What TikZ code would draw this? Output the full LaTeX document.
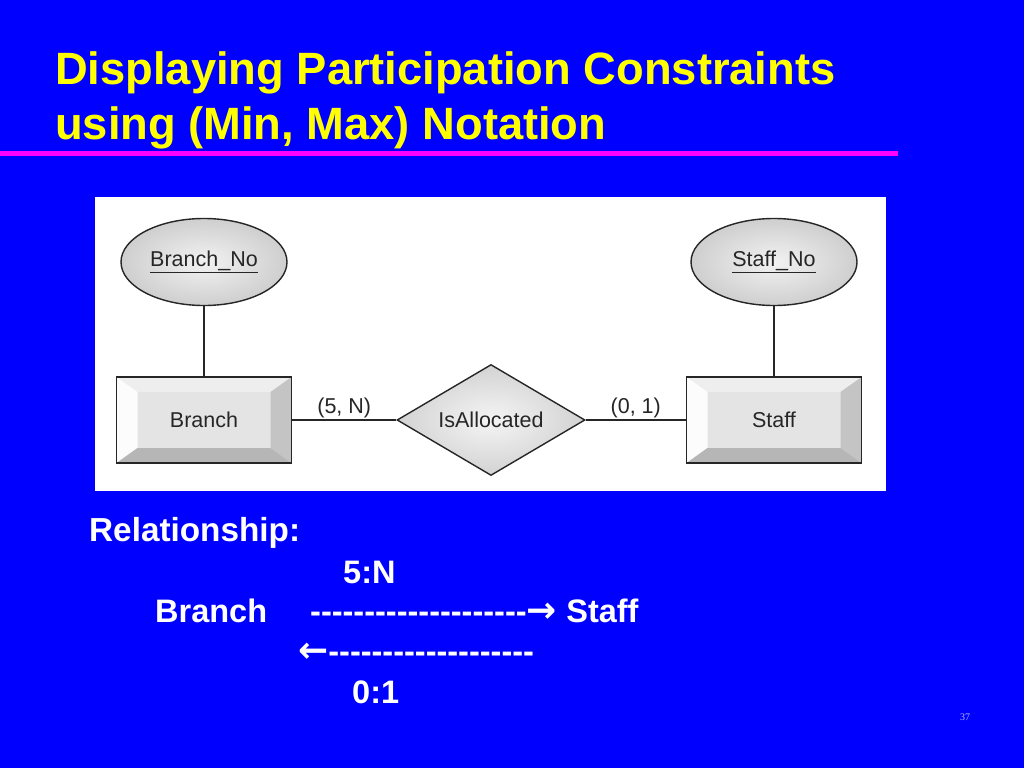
\documentclass[tikz,border=0pt]{standalone}
\usepackage{fontspec}
\setmainfont{Liberation Sans}
\newfontfamily\serifnum{Liberation Serif}
\newfontfamily\arrowfont{DejaVu Sans}
\usetikzlibrary{shapes.geometric,calc}
\definecolor{bg}{RGB}{0,0,255}
\definecolor{ttl}{RGB}{255,255,0}
\definecolor{mag}{RGB}{255,0,255}
\definecolor{pgnum}{RGB}{190,190,255}
\definecolor{bevtop}{RGB}{238,238,238}
\definecolor{bevleft}{RGB}{252,252,252}
\definecolor{bevright}{RGB}{196,196,196}
\definecolor{bevbot}{RGB}{182,182,182}
\definecolor{face}{RGB}{228,228,228}
\newcommand\hy{\mbox{-}}
\newcommand\arr[1]{{\arrowfont\fontsize{36}{38}\selectfont\bfseries #1}}
\begin{document}
\begin{tikzpicture}[x=1pt,y=-1pt,
  conn/.style={draw=black!85, line width=1.4pt},
  dfont/.style={font=\fontsize{21.5}{24}\selectfont, text=black!85},
  entity/.style={draw=black!85, line width=1.4pt, fill=face, minimum width=175pt,
    minimum height=86pt, inner sep=0pt, dfont,
    path picture={
      \fill[bevtop] (path picture bounding box.north west) -- (path picture bounding box.north east)
        -- ($(path picture bounding box.north east)+(-21,15)$) -- ($(path picture bounding box.north west)+(21,15)$) -- cycle;
      \fill[bevleft] (path picture bounding box.north west) -- ($(path picture bounding box.north west)+(21,15)$)
        -- ($(path picture bounding box.south west)+(21,-15)$) -- (path picture bounding box.south west) -- cycle;
      \fill[bevright] (path picture bounding box.north east) -- (path picture bounding box.south east)
        -- ($(path picture bounding box.south east)+(-21,-15)$) -- ($(path picture bounding box.north east)+(-21,15)$) -- cycle;
      \fill[bevbot] (path picture bounding box.south west) -- (path picture bounding box.south east)
        -- ($(path picture bounding box.south east)+(-21,-15)$) -- ($(path picture bounding box.south west)+(21,-15)$) -- cycle;
    }},
  attr/.style={shape=ellipse, draw=black!85, line width=1.4pt, minimum width=166pt,
    minimum height=87pt, inner sep=0pt, inner color=gray!10, outer color=gray!38, dfont},
  relship/.style={shape=diamond, draw=black!85, line width=1.4pt, aspect=1.7,
    minimum width=188pt, minimum height=111pt, inner sep=0pt,
    inner color=gray!8, outer color=gray!35, dfont},
  lbl/.style={dfont, inner sep=0pt, above=1pt},
  title/.style={font=\fontsize{45.3}{54}\bfseries, text=ttl, anchor=base west, inner sep=0pt},
  body/.style={font=\fontsize{32.5}{36}\bfseries, text=white, anchor=base west, inner sep=0pt}
]
% background and bounding box
\fill[bg] (0,0) rectangle (1024,768);
% title
\node[title] (title1) at (55,84) {Displaying Participation Constraints};
\node[title] (title2) at (55,139) {using (Min, Max) Notation};
\fill[mag] (0,151) rectangle (898,156);
% diagram panel
\fill[white] (95,197) rectangle (886,491);
\node[attr] (bno) at (204,262) {\underline{Branch\_No}};
\node[attr] (sno) at (774,262) {\underline{Staff\_No}};
\node[entity] (branch) at (204,420) {Branch};
\node[entity] (staff) at (774,420) {Staff};
\node[relship] (rel) at (491,420) {IsAllocated};
\draw[conn] (bno.south) -- (bno.south |- branch.north);
\draw[conn] (sno.south) -- (sno.south |- staff.north);
\draw[conn] (branch.east) -- node[lbl] (l5n) {(5, N)} (rel.west);
\draw[conn] (rel.east) -- node[lbl] (l01) {(0, 1)} (staff.west);
% relationship text
\node[body, font=\fontsize{33.3}{36}\bfseries] (relt) at (89,541) {Relationship:};
\node[body] (r5n) at (343,583) {5:N};
\node[body] (rbranch) at (155,622) {Branch};
\node[body] (rline1) at (310,622) {\hy\hy\hy\hy\hy\hy\hy\hy\hy\hy\hy\hy\hy\hy\hy\hy\hy\hy\hy\hy\arr{→}\kern9.5pt Staff};
\node[body] (rline2) at (298,662) {\arr{←}\hy\hy\hy\hy\hy\hy\hy\hy\hy\hy\hy\hy\hy\hy\hy\hy\hy\hy\hy};
\node[body] (r01) at (352,703) {0:1};
% page number
\node[font=\serifnum\fontsize{10}{12}\selectfont, text=pgnum, inner sep=0pt] (pg) at (965,717) {37};
\end{tikzpicture}
\end{document}
